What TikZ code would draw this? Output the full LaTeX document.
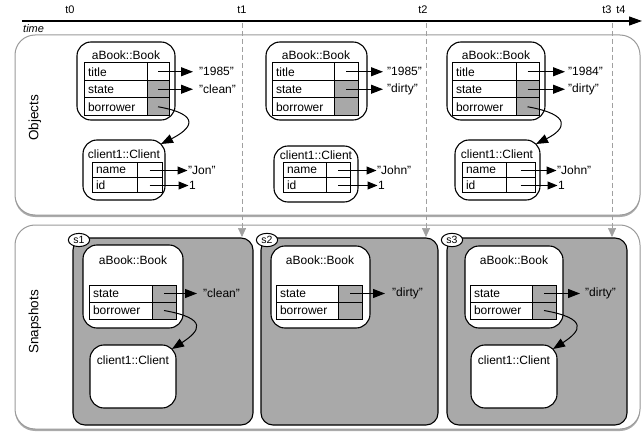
\documentclass[tikz,border=0pt]{standalone}
\usepackage{fontspec}
\setmainfont{Liberation Sans}
\usetikzlibrary{arrows.meta,shadows,shapes.geometric}
\definecolor{cellgray}{HTML}{A8A8A8}
\definecolor{snapgray}{HTML}{A9A9A9}
\definecolor{dashgray}{HTML}{A0A0A0}
\definecolor{panelborder}{HTML}{9A9A9A}
\tikzset{
  every node/.style={font=\fontsize{12}{14}\selectfont},
  panel/.style={draw=panelborder, line width=1pt, fill=white, rounded corners=20pt, inner sep=0pt, outer sep=0pt,
    drop shadow={shadow xshift=0pt, shadow yshift=-2pt, fill=black!55, opacity=0.6}},
  objbox/.style={draw, line width=1.1pt, rounded corners=14pt, fill=white, inner sep=0pt, outer sep=0pt},
  snapbox/.style={draw, line width=1.1pt, rounded corners=12pt, fill=snapgray, inner sep=0pt, outer sep=0pt},
  snaplabel/.style={draw, ellipse, line width=1pt, fill=white, inner xsep=2pt, inner ysep=1pt, font=\fontsize{10.5}{11}\selectfont},
  lcell/.style={draw, line width=1pt, fill=white, inner xsep=4pt, inner ysep=0pt, outer sep=0pt, align=left},
  rcell/.style={draw, line width=1pt, inner sep=0pt, outer sep=0pt},
  val/.style={inner sep=0pt, anchor=west},
  arr/.style={-{Triangle[length=12pt,width=9pt]}, line width=1pt},
  tarr/.style={-{Triangle[length=10pt,width=8pt]}, line width=1pt},
  dashline/.style={draw=dashgray, line width=0.7pt, dash pattern=on 5pt off 3pt, -{Triangle[length=9pt,width=8pt,fill=dashgray,sep=0pt]}},
  tick/.style={font=\fontsize{11}{12}\selectfont, inner sep=0pt},
  sidelabel/.style={rotate=90, font=\fontsize{13.5}{15}\selectfont, inner sep=0pt},
  boxtitle/.style={inner sep=0pt}
}
\newcommand{\trow}[7]{%
  \node[lcell, text width=#3, minimum height=#5, anchor=north west] (#1) at #2 {#6};
  \node[rcell, minimum width=#4, minimum height=#5, fill=#7, anchor=north west] (#1v) at (#1.north east) {};
}
\begin{document}
\begin{tikzpicture}[x=1pt,y=-1pt]
\useasboundingbox (0,0) rectangle (643,433);

% time axis
\coordinate (tstart) at (22,21);
\coordinate (tend) at (642,21);
\draw[line width=1.2pt, -{Triangle[length=13pt,width=9pt]}] (tstart) -- (tend);
\node[tick] (t0) at (70,10) {t0};
\node[tick] (t1) at (242,10) {t1};
\node[tick] (t2) at (423,10) {t2};
\node[tick] (t3) at (607,10) {t3};
\node[tick] (t4) at (621,10) {t4};
\node[tick, anchor=west, font=\fontsize{11}{12}\selectfont\itshape] (timelbl) at (23,29) {time};

% panels
\node[panel, minimum width=625pt, minimum height=180pt, anchor=north west] (objpanel) at (15,35) {};
\node[panel, minimum width=625pt, minimum height=204pt, anchor=north west] (snappanel) at (15,225) {};
\node[sidelabel] (lobj) at (35,118) {Objects};
\node[sidelabel] (lsnap) at (35,322) {Snapshots};

% ---------- Objects t0 ----------
\node[objbox, minimum width=98pt, minimum height=78pt, anchor=north west] (b0) at (77,42) {};
\node[boxtitle] (b0t) at (126,55) {aBook::Book};
\trow{a0r1}{(84,63)}{55pt}{22pt}{17.5pt}{title}{white}
\trow{a0r2}{(a0r1.south west)}{55pt}{22pt}{17.5pt}{state}{cellgray}
\trow{a0r3}{(a0r2.south west)}{55pt}{22pt}{17.5pt}{borrower}{cellgray}
\node[val] (a0v1) at ([xshift=30pt]a0r1v.east) {"1985"};
\node[val] (a0v2) at ([xshift=30pt]a0r2v.east) {"clean"};
\draw[arr] (a0r1v.center) -- ([xshift=-6pt]a0v1.west);
\draw[arr] (a0r2v.center) -- ([xshift=-6pt]a0v2.west);

\node[objbox, minimum width=82pt, minimum height=60pt, anchor=north west] (c0) at (83,140) {};
\node[boxtitle] (c0t) at (124,154) {client1::Client};
\trow{c0r1}{(92,163)}{37pt}{25pt}{15pt}{name}{white}
\trow{c0r2}{(c0r1.south west)}{37pt}{25pt}{15pt}{id}{white}
\node[val] (c0v1) at ([xshift=26pt]c0r1v.east) {"Jon"};
\node[val] (c0v2) at ([xshift=27pt]c0r2v.east) {1};
\draw[tarr] (c0r1v.center) -- ([xshift=-0.5pt]c0v1.west);
\draw[tarr] (c0r2v.center) -- ([xshift=-0.5pt]c0v2.west);
\draw[arr] (a0r3v.center) .. controls +(45,8) and +(30,-15) .. ([xshift=-4pt,yshift=-4pt]c0.north east);

% ---------- Objects t1 ----------
\node[objbox, minimum width=101pt, minimum height=78pt, anchor=north west] (b1) at (266,42) {};
\node[boxtitle] (b1t) at (316,55) {aBook::Book};
\trow{a1r1}{(272,63)}{54pt}{24pt}{17.5pt}{title}{white}
\trow{a1r2}{(a1r1.south west)}{54pt}{24pt}{17.5pt}{state}{cellgray}
\trow{a1r3}{(a1r2.south west)}{54pt}{24pt}{17.5pt}{borrower}{cellgray}
\node[val] (a1v1) at ([xshift=29pt]a1r1v.east) {"1985"};
\node[val] (a1v2) at ([xshift=29pt]a1r2v.east) {"dirty"};
\draw[arr] (a1r1v.center) -- ([xshift=-4pt]a1v1.west);
\draw[arr] (a1r2v.center) -- ([xshift=-4pt]a1v2.west);

\node[objbox, minimum width=84pt, minimum height=56pt, anchor=north west] (c1) at (274,146) {};
\node[boxtitle] (c1t) at (316,155) {client1::Client};
\trow{c1r1}{(283,163)}{35pt}{24pt}{15pt}{name}{white}
\trow{c1r2}{(c1r1.south west)}{35pt}{24pt}{15pt}{id}{white}
\node[val] (c1v1) at ([xshift=27pt]c1r1v.east) {"John"};
\node[val] (c1v2) at ([xshift=28pt]c1r2v.east) {1};
\draw[tarr] (c1r1v.center) -- ([xshift=-0.5pt]c1v1.west);
\draw[tarr] (c1r2v.center) -- ([xshift=-0.5pt]c1v2.west);

% ---------- Objects t3 ----------
\node[objbox, minimum width=98pt, minimum height=78pt, anchor=north west] (b3) at (447,42) {};
\node[boxtitle] (b3t) at (496,55) {aBook::Book};
\trow{a3r1}{(452,63)}{56pt}{23pt}{17.5pt}{title}{white}
\trow{a3r2}{(a3r1.south west)}{56pt}{23pt}{17.5pt}{state}{cellgray}
\trow{a3r3}{(a3r2.south west)}{56pt}{23pt}{17.5pt}{borrower}{cellgray}
\node[val] (a3v1) at ([xshift=29pt]a3r1v.east) {"1984"};
\node[val] (a3v2) at ([xshift=29pt]a3r2v.east) {"dirty"};
\draw[arr] (a3r1v.center) -- ([xshift=-3pt]a3v1.west);
\draw[arr] (a3r2v.center) -- ([xshift=-3pt]a3v2.west);

\node[objbox, minimum width=85pt, minimum height=60pt, anchor=north west] (c3) at (455,140) {};
\node[boxtitle] (c3t) at (497,154) {client1::Client};
\trow{c3r1}{(462,163)}{36pt}{29pt}{15pt}{name}{white}
\trow{c3r2}{(c3r1.south west)}{36pt}{29pt}{15pt}{id}{white}
\node[val] (c3v1) at ([xshift=22pt]c3r1v.east) {"John"};
\node[val] (c3v2) at ([xshift=23pt]c3r2v.east) {1};
\draw[tarr] (c3r1v.center) -- ([xshift=-0.5pt]c3v1.west);
\draw[tarr] (c3r2v.center) -- ([xshift=-0.5pt]c3v2.west);
\draw[arr] (a3r3v.center) .. controls +(45,8) and +(30,-15) .. ([xshift=-4pt,yshift=-4pt]c3.north east);

% ---------- Snapshots ----------
\node[snapbox, minimum width=180pt, minimum height=187pt, anchor=north west] (s1) at (73,238) {};
\node[snapbox, minimum width=177pt, minimum height=187pt, anchor=north west] (s2) at (261,238) {};
\node[snapbox, minimum width=180pt, minimum height=187pt, anchor=north west] (s3) at (447,238) {};
\node[snaplabel] (s1l) at (79,240) {s1};
\node[snaplabel] (s2l) at (267,240) {s2};
\node[snaplabel] (s3l) at (452,240) {s3};

% s1
\node[objbox, minimum width=100pt, minimum height=83pt, anchor=north west] (sb1) at (83,245) {};
\node[boxtitle] (sb1t) at (133,260) {aBook::Book};
\trow{p1r1}{(89,285)}{55pt}{24pt}{17pt}{state}{cellgray}
\trow{p1r2}{(p1r1.south west)}{55pt}{24pt}{17pt}{borrower}{cellgray}
\node[val] (p1v1) at ([xshift=27pt]p1r1v.east) {"clean"};
\draw[arr] (p1r1v.center) -- ([xshift=-6pt]p1v1.west);
\node[objbox, minimum width=86pt, minimum height=63pt, anchor=north west] (sc1) at (90,345) {};
\node[boxtitle] (sc1t) at (133,360) {client1::Client};
\draw[arr] (p1r2v.center) .. controls +(45,8) and +(28,-18) .. ([xshift=-4pt,yshift=-4pt]sc1.north east);

% s2
\node[objbox, minimum width=99pt, minimum height=82pt, anchor=north west] (sb2) at (271,246) {};
\node[boxtitle] (sb2t) at (320,260) {aBook::Book};
\trow{p2r1}{(276,285)}{54pt}{24pt}{17pt}{state}{cellgray}
\trow{p2r2}{(p2r1.south west)}{54pt}{24pt}{17pt}{borrower}{cellgray}
\node[val] (p2v1) at ([xshift=30pt]p2r1v.east) {"dirty"};
\draw[arr] (p2r1v.center) -- ([xshift=-7pt]p2v1.west);

% s3
\node[objbox, minimum width=98pt, minimum height=82pt, anchor=north west] (sb3) at (465,246) {};
\node[boxtitle] (sb3t) at (514,260) {aBook::Book};
\trow{p3r1}{(470,285)}{54pt}{24pt}{17pt}{state}{cellgray}
\trow{p3r2}{(p3r1.south west)}{54pt}{24pt}{17pt}{borrower}{cellgray}
\node[val] (p3v1) at ([xshift=29pt]p3r1v.east) {"dirty"};
\draw[arr] (p3r1v.center) -- ([xshift=-5pt]p3v1.west);
\node[objbox, minimum width=86pt, minimum height=63pt, anchor=north west] (sc3) at (471,345) {};
\node[boxtitle] (sc3t) at (514,360) {client1::Client};
\draw[arr] (p3r2v.center) .. controls +(45,8) and +(28,-18) .. ([xshift=-4pt,yshift=-4pt]sc3.north east);

% dashed time markers
\coordinate (d1a) at (242,23); \coordinate (d1b) at (242,237);
\coordinate (d2a) at (426,23); \coordinate (d2b) at (426,237);
\coordinate (d3a) at (612,23); \coordinate (d3b) at (612,237);
\draw[dashline] (d1a) -- (d1b);
\draw[dashline] (d2a) -- (d2b);
\draw[dashline] (d3a) -- (d3b);
\end{tikzpicture}
\end{document}
